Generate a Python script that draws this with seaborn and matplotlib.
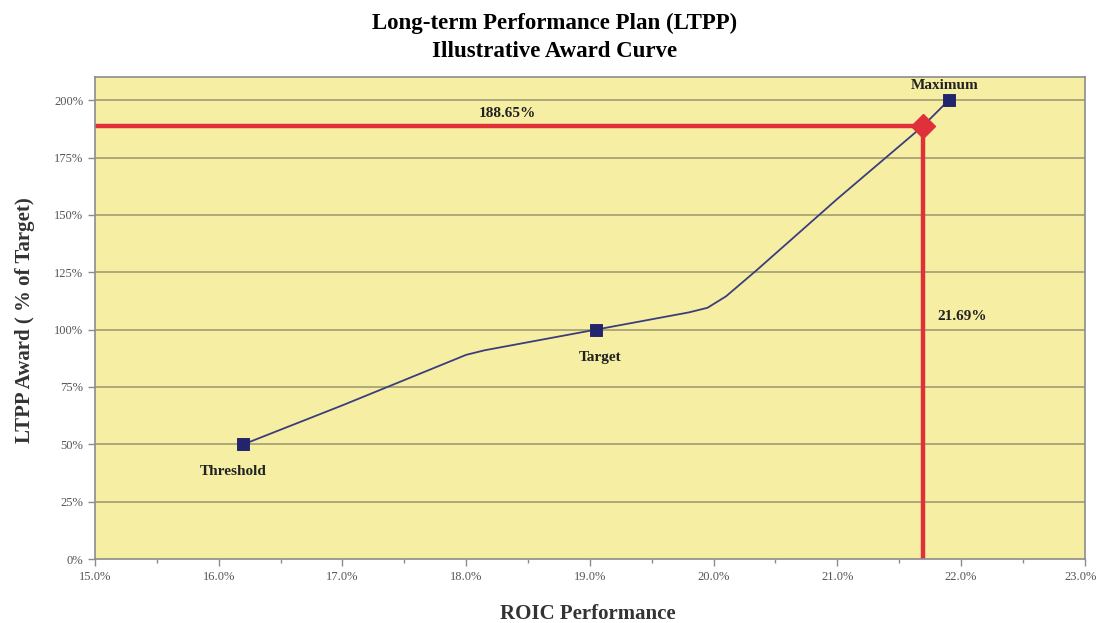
import numpy as np
import pandas as pd
import matplotlib.pyplot as plt
import matplotlib.ticker as mticker
import matplotlib.transforms as mtransforms
import seaborn as sns

# award curve (ROIC %, award %)
roic = [16.2, 17.0, 18.0, 18.15, 19.05, 19.5, 19.8, 19.95, 20.1, 20.35, 21.0, 21.69, 21.9]
award = [50, 67, 89, 91, 100, 104.5, 107.5, 109.5, 114.5, 126, 157, 188.65, 200]

# labelled points
point_names = ['Threshold', 'Target', 'Maximum']
point_roic = [16.2, 19.05, 21.9]
point_award = [50, 100, 200]

# illustrative result
result_roic = 21.69
result_award = 188.65

x_ticks = [15, 16, 17, 18, 19, 20, 21, 22, 23]
y_ticks = [0, 25, 50, 75, 100, 125, 150, 175, 200]

curve = pd.DataFrame({'roic': roic, 'award': award})
points = pd.DataFrame({'name': point_names, 'roic': point_roic, 'award': point_award})

sns.set_style('white', {'axes.facecolor': '#f6efa3', 'axes.edgecolor': '#8c8c8c'})
plt.rcParams['font.family'] = ['Liberation Serif', 'DejaVu Serif']

fig = plt.figure(figsize=(10.98, 6.23), dpi=100)
ax = fig.add_axes([0.0865, 0.1027, 0.9015, 0.7733])

# gridlines
for v in y_ticks[1:]:
    ax.axhline(v, color='#a39d73', lw=1.2, zorder=1)

# red result lines
ax.plot([x_ticks[0], result_roic], [result_award, result_award], color='#e0303a', lw=3.2, zorder=2, solid_capstyle='butt')
ax.plot([result_roic, result_roic], [0, result_award], color='#e0303a', lw=3.2, zorder=2, solid_capstyle='butt')

sns.lineplot(data=curve, x='roic', y='award', ax=ax, color='#3b3d7c', lw=1.3, zorder=3, sort=False)
sns.scatterplot(data=points, x='roic', y='award', ax=ax, marker='s', s=70, color='#23246e',
                edgecolor='#23246e', zorder=4)
ax.plot([result_roic], [result_award], marker='D', ms=12, color='#e0303a', zorder=5, ls='none')

# point labels
ax.text(point_roic[0] - 0.08, point_award[0] - 12, point_names[0], ha='center', va='center',
        fontsize=11, fontweight='bold', color='#222222')
ax.text(point_roic[1] + 0.03, point_award[1] - 12, point_names[1], ha='center', va='center',
        fontsize=11, fontweight='bold', color='#222222')
ax.text(point_roic[2] - 0.03, point_award[2] + 6.5, point_names[2], ha='center', va='center',
        fontsize=11, fontweight='bold', color='#222222')
ax.text(18.33, result_award + 5.5, f'{result_award:.2f}%', ha='center', va='center',
        fontsize=11, fontweight='bold', color='#222222')
ax.text(22.01, 105.5, f'{result_roic:.2f}%', ha='center', va='center',
        fontsize=11, fontweight='bold', color='#222222')

ax.set_xlim(15, 23)
ax.set_ylim(0, 210)
ax.set_xticks(x_ticks)
ax.set_xticks(np.arange(15.5, 23, 1), minor=True)
ax.set_yticks(y_ticks)
ax.xaxis.set_major_formatter(mticker.FuncFormatter(lambda v, p: f'{v:.1f}%'))
ax.yaxis.set_major_formatter(mticker.FuncFormatter(lambda v, p: f'{v:.0f}%'))
ax.tick_params(axis='both', which='major', direction='out', length=5, width=1, color='#8c8c8c',
               labelsize=9, labelcolor='#555555', left=True, bottom=True)
ax.tick_params(axis='x', which='minor', direction='out', length=3, width=1, color='#8c8c8c', bottom=True)
for s in ax.spines.values():
    s.set_linewidth(1.2)

# nudge the last x label so it stays inside the figure
fig.canvas.draw()
last = ax.get_xticklabels()[-1]
last.set_transform(last.get_transform() + mtransforms.ScaledTranslation(-4 / 100, 0, fig.dpi_scale_trans))

ax.set_xlabel('')
ax.set_ylabel('LTPP Award ( % of Target)', fontsize=15, fontweight='bold', color='#333333')
ax.yaxis.set_label_coords(-0.061, 0.495)
fig.text(0.535, 0.0145, 'ROIC Performance', ha='center', va='center',
         fontsize=15, fontweight='bold', color='#333333')

fig.text(0.505, 0.962, 'Long-term Performance Plan (LTPP)', ha='center', va='center',
         fontsize=16.5, fontweight='bold', color='black')
fig.text(0.505, 0.917, 'Illustrative Award Curve', ha='center', va='center',
         fontsize=16.5, fontweight='bold', color='black')

fig.savefig('out.png', dpi=100)
